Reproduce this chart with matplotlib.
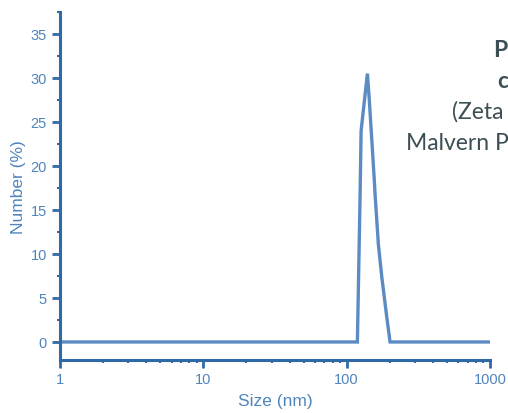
import matplotlib
matplotlib.use("Agg")
import matplotlib.pyplot as plt
from matplotlib.ticker import FixedLocator, MultipleLocator, LogLocator, NullFormatter

# Data (size in nm, number %)
size_nm = [1, 118.8, 124.1, 126.1, 139.5, 143.3, 149.7, 156.1, 157.8,
           166.4, 175.8, 190.5, 200.8, 1000]
number_pct = [0, 0, 16.8, 24.0, 30.5, 27.9, 23.0, 18.2, 16.8,
              11.1, 7.4, 2.8, 0, 0]

x_ticks = [1, 10, 100, 1000]
x_tick_labels = ["1", "10", "100", "1000"]
y_ticks = [0, 5, 10, 15, 20, 25, 30, 35]

# Annotation lines as visible in the reference (cut by the picture edge)
title_lines = ["P", "c", "(Zeta", "Malvern P"]

spine_col = "#2f6aa6"
tick_col = "#4f84bd"
line_col = "#5b8bc2"
text_col = "#3c4f55"

plt.rcParams['font.family'] = ['Liberation Sans', 'DejaVu Sans']

fig = plt.figure(figsize=(5.08, 4.14), dpi=100)
ax = fig.add_axes([60/508, 1-361/414, 430/508, 348/414])

ax.plot(size_nm, number_pct, color=line_col, lw=2.4, solid_joinstyle='miter')
ax.set_xscale('log')
ax.set_xlim(1, 1000)
ax.set_ylim(-2.05, 37.5)

for s in ['top', 'right']:
    ax.spines[s].set_visible(False)
for s in ['left', 'bottom']:
    ax.spines[s].set_color(spine_col)
    ax.spines[s].set_linewidth(2.2)

ax.xaxis.set_major_locator(FixedLocator(x_ticks))
ax.set_xticklabels(x_tick_labels)
ax.xaxis.set_minor_locator(LogLocator(base=10, subs=range(2, 10)))
ax.xaxis.set_minor_formatter(NullFormatter())
ax.yaxis.set_major_locator(FixedLocator(y_ticks))
ax.yaxis.set_minor_locator(MultipleLocator(2.5))

ax.tick_params(axis='both', which='major', colors=spine_col, labelcolor=tick_col,
               labelsize=10.5, length=6, width=2)
ax.tick_params(axis='both', which='minor', colors=spine_col, length=2.5, width=1.5)
ax.tick_params(axis='x', which='major', pad=3)

ax.set_xlabel("Size (nm)", color=tick_col, fontsize=12.5, labelpad=5)
ax.set_ylabel("Number (%)", color=tick_col, fontsize=12.5, labelpad=3)

fs = 16.5
fam = ['Lato', 'DejaVu Sans']
fig.text(493/508, 1-57/414, title_lines[0], fontsize=fs, fontweight='bold',
         color=text_col, family=fam, ha='left', va='baseline')
fig.text(497/508, 1-88/414, title_lines[1], fontsize=fs, fontweight='bold',
         color=text_col, family=fam, ha='left', va='baseline')
fig.text(452/508, 1-119/414, title_lines[2], fontsize=fs,
         color=text_col, family=fam, ha='left', va='baseline')
fig.text(406/508, 1-150/414, title_lines[3], fontsize=fs,
         color=text_col, family=fam, ha='left', va='baseline')

fig.savefig("out.png", dpi=100, facecolor='white')
